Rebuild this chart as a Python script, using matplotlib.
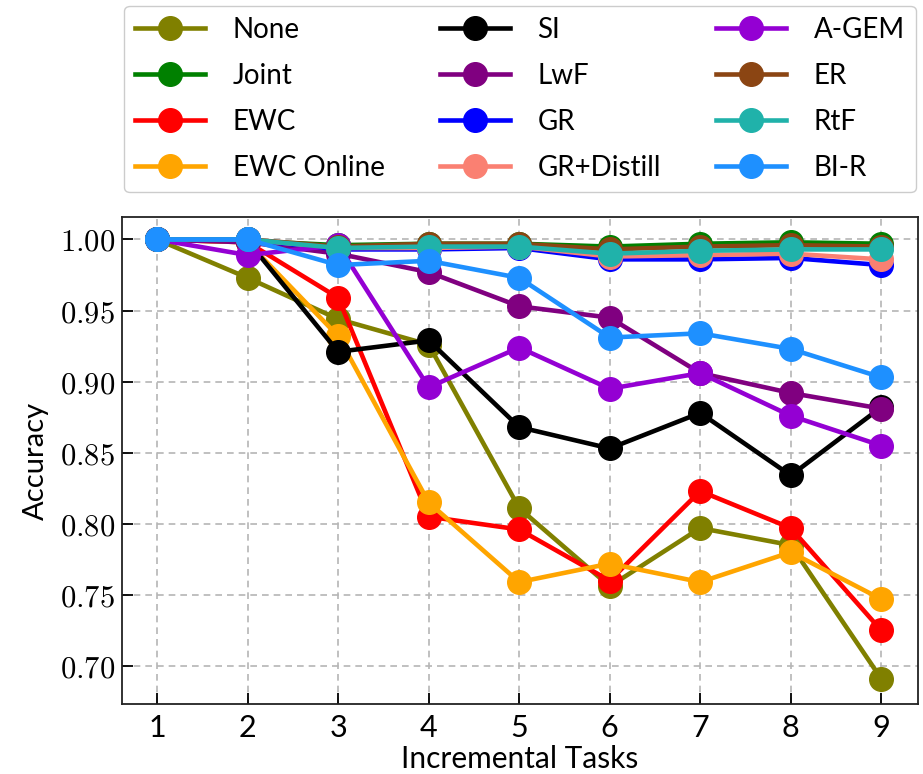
import matplotlib
matplotlib.use("Agg")
import matplotlib.pyplot as plt

plt.rcParams['font.family'] = ['Lato', 'DejaVu Sans']
plt.rcParams['mathtext.fontset'] = 'cm'

tasks = [1, 2, 3, 4, 5, 6, 7, 8, 9]

# accuracy per method
acc_none = [1.000, 0.973, 0.944, 0.926, 0.811, 0.756, 0.797, 0.785, 0.691]
acc_joint = [1.000, 0.999, 0.996, 0.997, 0.997, 0.995, 0.997, 0.998, 0.997]
acc_ewc = [1.000, 0.998, 0.959, 0.805, 0.796, 0.760, 0.823, 0.797, 0.725]
acc_ewc_online = [1.000, 0.998, 0.932, 0.815, 0.759, 0.772, 0.759, 0.780, 0.747]
acc_si = [1.000, 0.999, 0.921, 0.929, 0.868, 0.853, 0.878, 0.834, 0.882]
acc_lwf = [1.000, 0.998, 0.990, 0.977, 0.953, 0.945, 0.906, 0.892, 0.881]
acc_gr = [1.000, 1.000, 0.993, 0.993, 0.994, 0.986, 0.986, 0.987, 0.982]
acc_gr_distill = [1.000, 1.000, 0.994, 0.994, 0.995, 0.988, 0.989, 0.990, 0.986]
acc_agem = [1.000, 0.989, 0.996, 0.896, 0.924, 0.895, 0.906, 0.876, 0.855]
acc_er = [1.000, 1.000, 0.995, 0.997, 0.997, 0.993, 0.995, 0.996, 0.995]
acc_rtf = [1.000, 1.000, 0.994, 0.995, 0.995, 0.990, 0.992, 0.993, 0.993]
acc_bir = [1.000, 1.000, 0.982, 0.985, 0.973, 0.931, 0.934, 0.923, 0.903]

methods = ['None', 'Joint', 'EWC', 'EWC Online', 'SI', 'LwF', 'GR',
           'GR+Distill', 'A-GEM', 'ER', 'RtF', 'BI-R']
series = [acc_none, acc_joint, acc_ewc, acc_ewc_online, acc_si, acc_lwf,
          acc_gr, acc_gr_distill, acc_agem, acc_er, acc_rtf, acc_bir]
colors = ['olive', 'green', 'red', 'orange', 'black', 'purple', 'blue',
          'salmon', 'darkviolet', 'saddlebrown', 'lightseagreen', 'dodgerblue']
yticks = [0.70, 0.75, 0.80, 0.85, 0.90, 0.95, 1.00]

fig = plt.figure(figsize=(9.23, 7.74), dpi=100)
ax = fig.add_axes([0.132, 0.090, 0.863, 0.630])

for name, vals, c in zip(methods, series, colors):
    ax.plot(tasks, vals, color=c, marker='o', markersize=17, linewidth=3.3, label=name)

ax.set_xlim(0.61, 9.41)
ax.set_ylim(0.673, 1.016)
ax.set_xticks(tasks)
ax.set_yticks(yticks)
ax.set_yticklabels([r'$%.2f$' % v for v in yticks])
ax.tick_params(direction='in', length=8, width=1.3)
ax.tick_params(axis='x', labelsize=22, pad=7)
ax.tick_params(axis='y', labelsize=22, pad=5)
ax.grid(True, linestyle='--', color='#b5b5b5', linewidth=1.2, dashes=(4, 3))
ax.set_axisbelow(True)
for s in ax.spines.values():
    s.set_linewidth(1.3)
    s.set_color('#222222')

ax.set_xlabel('Incremental Tasks', fontsize=21.5, labelpad=2)
ax.set_ylabel('Accuracy', fontsize=21, labelpad=8)

ax.legend(ncol=3, loc='lower center', bbox_to_anchor=(0.5, 1.022), fontsize=20,
          handlelength=2.5, handletextpad=1.0, labelspacing=0.72, columnspacing=2.0,
          borderpad=0.4, frameon=True, fancybox=True, edgecolor='#cccccc', framealpha=1.0)

fig.savefig('out.png', dpi=100)
